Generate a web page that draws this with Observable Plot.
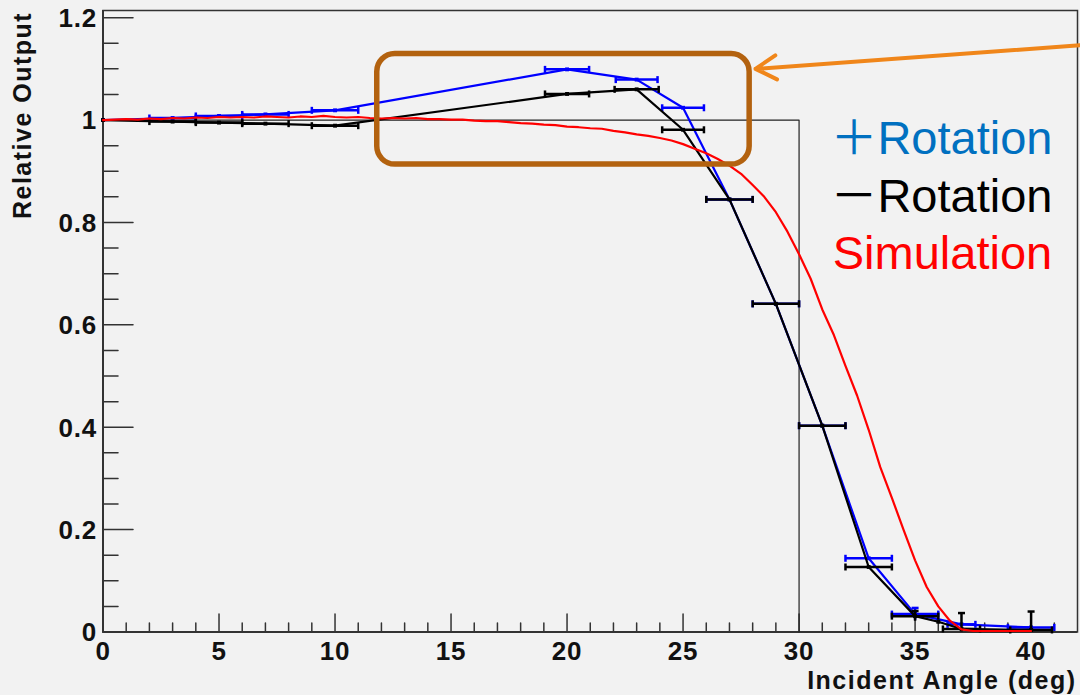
<!DOCTYPE html>
<html><head><meta charset="utf-8">
<script src="https://cdn.jsdelivr.net/npm/d3@7"></script>
<script src="https://cdn.jsdelivr.net/npm/@observablehq/plot@0.6"></script>
<style>
html,body{margin:0;padding:0;background:#f2f2f2;}
#chart{position:relative;width:1080px;height:695px;overflow:hidden;background:#f2f2f2}
#edge{position:absolute;left:0;top:225px;width:3px;height:258px;background:#000}
#chart svg{position:absolute;left:0;top:0}
</style></head><body><div id="chart"><div id="edge"></div></div>
<script>
// ---- axes / ticks ----
const xMajorTicks = [0, 5, 10, 15, 20, 25, 30, 35, 40];
const xMajorLabels = ["0", "5", "10", "15", "20", "25", "30", "35", "40"];
const xMinorTicks = [1,2,3,4,6,7,8,9,11,12,13,14,16,17,18,19,21,22,23,24,26,27,28,29,31,32,33,34,36,37,38,39,41];
const yMajorTicks = [0, 0.2, 0.4, 0.6, 0.8, 1, 1.2];
const yMajorLabels = ["0", "0.2", "0.4", "0.6", "0.8", "1", "1.2"];
const yMinorTicks = [0.05,0.1,0.15,0.25,0.3,0.35,0.45,0.5,0.55,0.65,0.7,0.75,0.85,0.9,0.95,1.05,1.1,1.15];
const xTitle = "Incident Angle (deg)";
const yTitle = "Relative Output";

// ---- +Rotation (blue) ----
const blueX    = [0, 3, 5, 7, 10, 20, 23, 25, 27, 29, 31, 33, 35, 37, 40];
const blueY    = [1.000, 1.004, 1.008, 1.011, 1.019, 1.099, 1.079, 1.024, 0.845, 0.641, 0.403, 0.144, 0.035, 0.015, 0.009];
const blueXErr = [0, 1, 1, 1, 1, 0.95, 0.9, 0.9, 1, 1, 1, 1, 1, 0.6, 1];
const blueYErr = [0, 0, 0, 0, 0, 0, 0, 0, 0, 0, 0, 0, 0.012, 0, 0];

// ---- -Rotation (black) ----
const blackX    = [0, 3, 5, 7, 10, 20, 23, 25, 27, 29, 31, 33, 35, 36, 37, 40];
const blackY    = [1.000, 0.997, 0.995, 0.993, 0.989, 1.051, 1.060, 0.981, 0.845, 0.641, 0.403, 0.127, 0.031, 0.020, 0.006, 0.004];
const blackXErr = [0, 1, 1, 1, 1, 0.95, 0.95, 0.9, 1, 1, 1, 1, 1, 0, 0.8, 0.9];
const blackYErr = [0, 0, 0, 0, 0, 0, 0, 0, 0, 0, 0, 0, 0.01, 0, 0.031, 0.036];

// ---- Simulation (red) ----
const simX = [0,0.5,1,1.5,2,2.5,3,3.5,4,4.5,5,5.5,6,6.5,7,7.5,8,8.5,9,9.5,10,10.5,11,11.5,12,12.5,13,13.5,14,14.5,15,15.5,16,16.5,17,17.5,18,18.5,19,19.5,20,20.5,21,21.5,22,22.5,23,23.5,24,24.5,25,25.5,26,26.5,27,27.5,28,28.5,29,29.5,30,30.5,31,31.5,32,32.5,33,33.5,34,34.5,35,35.5,36,36.5,37,37.5,38,38.5,39,39.5,40];
const simY = [1.000,1.001,1.002,1.001,1.003,1.002,1.004,1.003,1.005,1.004,1.006,1.005,1.006,1.005,1.007,1.006,1.005,1.007,1.006,1.008,1.006,1.005,1.006,1.004,1.003,1.004,1.003,1.004,1.002,1.002,1.001,1.001,0.999,0.998,0.998,0.996,0.994,0.993,0.991,0.990,0.987,0.986,0.984,0.983,0.979,0.976,0.972,0.969,0.965,0.960,0.953,0.944,0.935,0.924,0.911,0.895,0.873,0.850,0.820,0.782,0.738,0.690,0.630,0.580,0.520,0.462,0.395,0.322,0.262,0.200,0.140,0.088,0.050,0.022,0.005,0.002,0.002,0.002,0.002,0.002,0.002];

// ---- ideal acceptance step ----
const idealX = [0, 30, 30];
const idealY = [1, 1, 0];

// ---- legend ----
const legendLabels = ["＋Rotation", "－Rotation", "Simulation"];
const legendColors = ["#0070c0", "#000000", "#ff0000"];
const legendX = [31.35, 31.35, 31.45];
const legendY = [0.934, 0.820, 0.709];

// ---- annotation ----
const boxX = [11.82, 27.87];
const boxY = [0.913, 1.129];
const arrowFrom = [42.1, 1.146];
const arrowTo = [28.12, 1.100];

const mk = (X, Y, XE, YE) => X.map((x, i) => ({x, y: Y[i], xe: XE[i], ye: YE[i]}));
const blue = mk(blueX, blueY, blueXErr, blueYErr);
const black = mk(blackX, blackY, blackXErr, blackYErr);
const sim = simX.map((x, i) => ({x, y: simY[i]}));
const ideal = idealX.map((x, i) => ({x, y: idealY[i]}));
const legend = legendLabels.map((t, i) => ({t, c: legendColors[i], x: legendX[i], y: legendY[i]}));

const vline = {draw(ctx, size) {const r = Math.sqrt(size / Math.PI); ctx.moveTo(0, -r); ctx.lineTo(0, r);}};
const hline = {draw(ctx, size) {const r = Math.sqrt(size / Math.PI); ctx.moveTo(-r, 0); ctx.lineTo(r, 0);}};
const tickShape = {draw(ctx, l) {ctx.moveTo(0, 0); ctx.lineTo(0, -l);}};

function series(data, color) {
  const xb = data.filter(d => d.xe > 0);
  const yb = data.filter(d => d.ye > 0);
  const o = {stroke: color, strokeWidth: 2.5};
  return [
    Plot.line(data, {x: "x", y: "y", stroke: color, strokeWidth: 2.2}),
    Plot.ruleY(xb, {y: "y", x1: d => d.x - d.xe, x2: d => d.x + d.xe, ...o}),
    Plot.dot(xb, {x: d => d.x - d.xe, y: "y", symbol: vline, r: 3.5, fill: "none", ...o}),
    Plot.dot(xb, {x: d => d.x + d.xe, y: "y", symbol: vline, r: 3.5, fill: "none", ...o}),
    Plot.ruleX(yb, {x: "x", y1: d => Math.max(0, d.y - d.ye), y2: d => d.y + d.ye, ...o}),
    Plot.dot(yb, {x: "x", y: d => d.y + d.ye, symbol: hline, r: 3.5, fill: "none", ...o}),
    Plot.dot(data, {x: "x", y: "y", symbol: "square", r: 2.2, fill: color, stroke: "none"})
  ];
}

const FONT = "'Liberation Sans', Arial, Helvetica, sans-serif";
const AX = "#333";

const plot = Plot.plot({
  width: 1080, height: 695,
  marginLeft: 102.5, marginRight: 3, marginTop: 10, marginBottom: 63.5,
  x: {domain: [0, 42], axis: null},
  y: {domain: [0, 1.214], axis: null},
  style: {background: "#f2f2f2", fontFamily: FONT},
  marks: [
    Plot.frame({stroke: AX, strokeWidth: 1.5}),
    // ticks (inward)
    Plot.vector(xMajorTicks, {x: d => d, y: () => 0, length: 18, anchor: "start", shape: tickShape, stroke: AX, strokeWidth: 1.5}),
    Plot.vector(xMinorTicks, {x: d => d, y: () => 0, length: 9, anchor: "start", shape: tickShape, stroke: AX, strokeWidth: 1.5}),
    Plot.vector(yMajorTicks, {x: () => 0, y: d => d, length: 30, rotate: 90, anchor: "start", shape: tickShape, stroke: AX, strokeWidth: 1.5}),
    Plot.vector(yMinorTicks, {x: () => 0, y: d => d, length: 15, rotate: 90, anchor: "start", shape: tickShape, stroke: AX, strokeWidth: 1.5}),
    Plot.ruleX([0], {stroke: AX, strokeWidth: 2}),
    Plot.ruleY([0], {stroke: AX, strokeWidth: 2}),
    // tick labels
    Plot.text(xMajorTicks, {x: d => d, y: () => 0, text: (d, i) => xMajorLabels[i], lineAnchor: "top", dy: 10, fontSize: 26, fontWeight: "bold", fill: "#111"}),
    Plot.text(yMajorTicks, {x: () => 0, y: d => d, text: (d, i) => yMajorLabels[i], textAnchor: "end", lineAnchor: "middle", dx: -6, dy: 1, fontSize: 26, fontWeight: "bold", fill: "#111"}),
    // axis titles
    Plot.text([xTitle], {frameAnchor: "bottom-right", text: d => d, textAnchor: "end", lineAnchor: "bottom", dy: 56.8, dx: -1, fontSize: 25, fontWeight: "bold", fill: "#111"}),
    Plot.text([yTitle], {x: () => -3.43, y: () => 1.009, text: d => d, rotate: -90, textAnchor: "middle", lineAnchor: "middle", fontSize: 25, fontWeight: "bold", fill: "#111"}),
    // ideal
    Plot.line(ideal, {x: "x", y: "y", stroke: "#222", strokeWidth: 1.2}),
    ...series(blue, "#0000ff"),
    ...series(black, "#000000"),
    Plot.line(sim, {x: "x", y: "y", stroke: "#ff0000", strokeWidth: 2.2}),
    // annotation
    Plot.rect([0], {x1: () => boxX[0], x2: () => boxX[1], y1: () => boxY[0], y2: () => boxY[1], rx: 18, fill: "none", stroke: "#b3620f", strokeWidth: 5.5}),
    Plot.arrow([0], {x1: () => arrowFrom[0], y1: () => arrowFrom[1], x2: () => arrowTo[0], y2: () => arrowTo[1], stroke: "#f0861a", strokeWidth: 4, headLength: 9}),
    // legend
    Plot.text(legend, {x: "x", y: "y", text: "t", fill: "c", textAnchor: "start", lineAnchor: "bottom", fontSize: 47, fontFamily: "'Liberation Sans', 'Noto Sans CJK JP', Arial, sans-serif"})
  ]
});
document.getElementById("chart").appendChild(plot);
d3.select(plot).selectAll("text").filter(function() { return this.textContent === xTitle || this.textContent === yTitle; }).style("letter-spacing", "1.5px");
d3.select(plot).selectAll("text").filter(function() { return yMajorLabels.includes(this.textContent) || xMajorLabels.includes(this.textContent); }).style("letter-spacing", "0.8px");
</script></body></html>
